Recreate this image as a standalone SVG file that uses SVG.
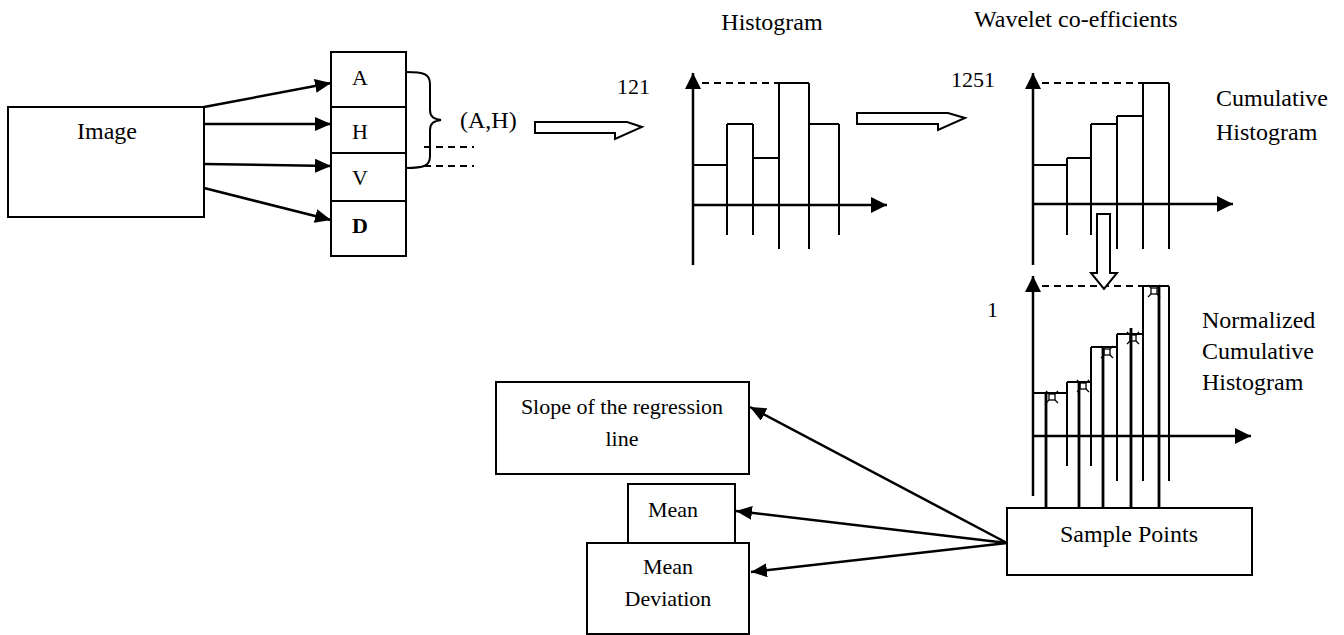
<svg xmlns="http://www.w3.org/2000/svg" width="1344" height="635" viewBox="0 0 1344 635">
<style>
text{font-family:"Liberation Serif","Times New Roman",serif;font-size:22px;fill:#000}
.lg{font-size:24px}
.c{text-anchor:middle}
.box{fill:#fff;stroke:#000;stroke-width:2}
.ln{fill:none;stroke:#000;stroke-width:2}
.ax{fill:none;stroke:#000;stroke-width:2.5}
.dash{fill:none;stroke:#000;stroke-width:1.8;stroke-dasharray:7,5}
.conn{fill:none;stroke:#000;stroke-width:2.5}
.hol{fill:#fff;stroke:#000;stroke-width:2}
.sp{fill:none;stroke:#000;stroke-width:2.8}
.mk{fill:none;stroke:#000;stroke-width:1.3}
</style>
<defs>
<marker id="ah" markerUnits="userSpaceOnUse" markerWidth="16" markerHeight="14" refX="16" refY="7" orient="auto"><path d="M0,0 L16,7 L0,14 Z" fill="#000"/></marker>
<marker id="axh" markerUnits="userSpaceOnUse" markerWidth="16" markerHeight="16" refX="16" refY="8" orient="auto"><path d="M0,0 L16,8 L0,16 Z" fill="#000"/></marker>
<g id="mkr"><rect x="-3" y="-3" width="6" height="6" class="mk" fill="#fff"/><path d="M-3,-3 L-6,-6 M3,-3 L6,-6 M-3,3 L-6,6 M3,3 L6,6" class="mk"/></g>
</defs>

<g id="image"><rect class="box" x="8" y="107" width="196" height="110"/><text class="c lg" x="107" y="139">Image</text></g>

<g id="subbands">
<rect class="box" x="331" y="52" width="75" height="55"/><text class="c" x="360" y="85">A</text>
<rect class="box" x="331" y="107" width="75" height="46"/><text class="c" x="360" y="139">H</text>
<rect class="box" x="331" y="153" width="75" height="48"/><text class="c" x="360" y="185">V</text>
<rect class="box" x="331" y="201" width="75" height="55"/><text class="c" x="360" y="233" font-weight="bold">D</text>
</g>

<g id="brace">
<path class="ln" d="M406,72 C424,72 430,74 430,84 L430,110 C430,117 434,119 441,120 C434,121 430,123 430,130 L430,156 C430,166 424,168 406,168"/>
<path class="dash" d="M424,147 H474 M424,166 H474"/>
<text class="lg" x="460" y="128">(A,H)</text>
</g>

<g id="histogram">
<text class="c lg" x="772" y="30">Histogram</text>
<text x="617" y="94">121</text>
<path class="ax" d="M693,265 V73" marker-end="url(#axh)"/>
<path class="ax" d="M693,205 H887" marker-end="url(#axh)"/>
<path class="dash" d="M702,83 H779"/>
<path class="ln" d="M693,165 H727 M727,124 H753 M753,158 H779 M779,83 H809 M809,124 H839 M727,124 V235 M753,124 V235 M779,83 V249 M809,83 V249 M839,124 V235"/>
</g>

<g id="cumulative">
<text class="lg" x="974" y="27">Wavelet co-efficients</text>
<text x="951" y="87">1251</text>
<text class="lg" x="1216" y="106">Cumulative</text>
<text class="lg" x="1216" y="140">Histogram</text>
<path class="ax" d="M1033,265 V73" marker-end="url(#axh)"/>
<path class="ax" d="M1033,204 H1233" marker-end="url(#axh)"/>
<path class="dash" d="M1042,83 H1143"/>
<path class="ln" d="M1033,165 H1067 M1067,158 H1091 M1091,124 H1117 M1117,116 H1143 M1143,83 H1169 M1067,158 V235 M1091,124 V235 M1117,116 V249 M1143,83 V249 M1169,83 V249"/>
</g>

<g id="normalized">
<text x="987" y="317">1</text>
<text class="lg" x="1202" y="328">Normalized</text>
<text class="lg" x="1202" y="359">Cumulative</text>
<text class="lg" x="1202" y="390">Histogram</text>
<path class="ax" d="M1033,496 V276" marker-end="url(#axh)"/>
<path class="ax" d="M1033,436 H1251" marker-end="url(#axh)"/>
<path class="dash" d="M1042,286 H1143"/>
<path class="ln" d="M1033,393 H1067 M1067,382 H1091 M1091,347 H1117 M1117,334 H1143 M1143,286 H1169 M1067,382 V466 M1091,347 V466 M1117,334 V481 M1143,286 V481 M1169,286 V481"/>
<path class="sp" d="M1046,393 V508 M1079,382 V508 M1103,347 V508 M1131,328 V508 M1159,286 V508"/>
<use href="#mkr" x="1052" y="397"/>
<use href="#mkr" x="1083" y="386"/>
<use href="#mkr" x="1107" y="352"/>
<use href="#mkr" x="1133" y="338"/>
<use href="#mkr" x="1154" y="291"/>
</g>

<g id="sample"><rect class="box" x="1007" y="508" width="245" height="67"/><text class="c lg" x="1129" y="542">Sample Points</text></g>
<g id="slope"><rect class="box" x="496" y="382" width="253" height="92"/><text class="c" x="622" y="414">Slope of the regression</text><text class="c" x="622" y="446">line</text></g>
<g id="mean"><rect class="box" x="628" y="484" width="107" height="59"/><text class="c" x="673" y="517">Mean</text></g>
<g id="meandev"><rect class="box" x="587" y="543" width="162" height="91"/><text class="c" x="668" y="574">Mean</text><text class="c" x="668" y="606">Deviation</text></g>

<g id="flow-arrows">
<path class="hol" d="M535,122 H627 L642,127 L615,139 V133 H535 Z"/>
<path class="hol" d="M857,113 H948 L965,118 L938,130 V124 H857 Z"/>
<path class="hol" d="M1097,214 H1110 V273 H1117 L1104,289 L1091,273 H1097 Z"/>
</g>

<g id="connectors">
<path class="conn" d="M204,107 L331,83" marker-end="url(#ah)"/>
<path class="conn" d="M204,124 L331,124" marker-end="url(#ah)"/>
<path class="conn" d="M204,164 L331,166" marker-end="url(#ah)"/>
<path class="conn" d="M204,188 L331,220" marker-end="url(#ah)"/>
<path class="conn" d="M1007,543 L750,407" marker-end="url(#ah)"/>
<path class="conn" d="M1007,543 L736,511" marker-end="url(#ah)"/>
<path class="conn" d="M1007,543 L751,572" marker-end="url(#ah)"/>
</g>
</svg>
